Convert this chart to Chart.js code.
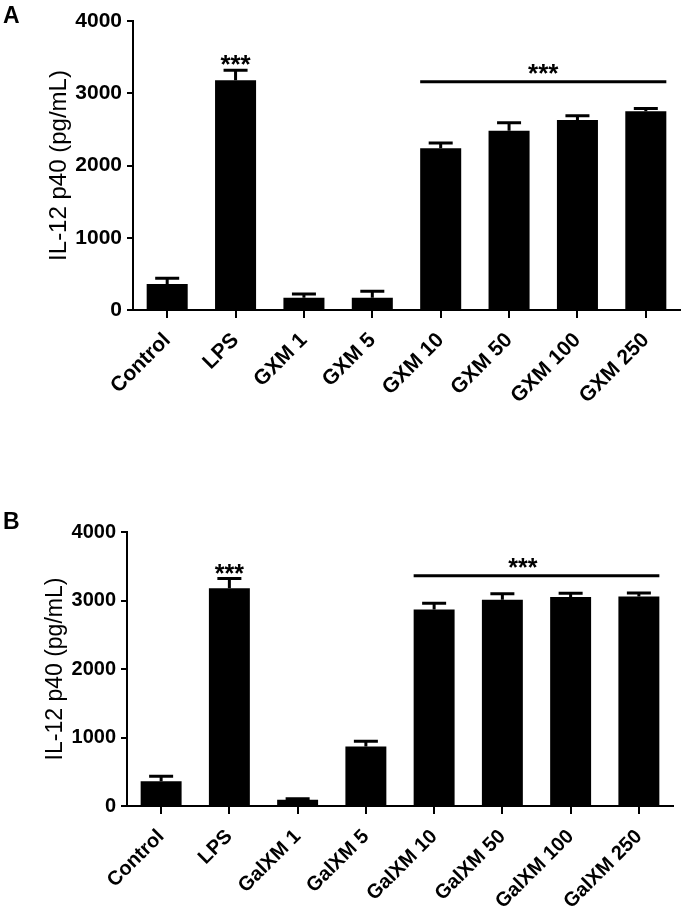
<!DOCTYPE html>
<html>
<head>
<meta charset="utf-8">
<script src="https://cdn.jsdelivr.net/npm/chart.js@4.4.0/dist/chart.umd.min.js"></script>
<style>
  body { margin: 0; background: #fff; width: 685px; height: 909px; position: relative; overflow: hidden;
         font-family: "Liberation Sans", Arial, sans-serif; }
  .panel { position: absolute; left: 0; width: 685px; }
  .tag { position: absolute; left: 3px; font-weight: bold; font-size: 23px; line-height: 1; color: #000; }
</style>
</head>
<body>
<div class="panel" style="top:0;height:460px"><canvas id="chartA"></canvas></div>
<div class="panel" style="top:460px;height:449px"><canvas id="chartB"></canvas></div>
<div class="tag" style="top:4px">A</div>
<div class="tag" style="top:510px">B</div>

<script>
// ---- data ----
const labelsA = ["Control", "LPS", "GXM 1", "GXM 5", "GXM 10", "GXM 50", "GXM 100", "GXM 250"];
const meanA   = [360, 3180, 170, 170, 2240, 2480, 2630, 2750];
const semA    = [80, 140, 50, 90, 70, 110, 60, 40];

const labelsB = ["Control", "LPS", "GalXM 1", "GalXM 5", "GalXM 10", "GalXM 50", "GalXM 100", "GalXM 250"];
const meanB   = [360, 3180, 90, 870, 2870, 3010, 3050, 3060];
const semB    = [75, 140, 15, 75, 90, 90, 55, 50];

const yTicks = [0, 1000, 2000, 3000, 4000];
const yTitle = "IL-12 p40 (pg/mL)";

// significance: single bar + bracket over a group of bars
const sigA = { single: 1, from: 4, to: 7, lineValue: 3160, starAt: 5.5 };
const sigB = { single: 1, from: 4, to: 7, lineValue: 3360, starAt: 5.3 };

const FONT = "'Liberation Sans', Arial, sans-serif";

/* ----------------------------------------------------------
   error bars + stars, drawn through the chart scales
---------------------------------------------------------- */
const annotate = {
  id: "annotate",
  afterDatasetsDraw(chart) {
    const o = chart.options.plugins.annotate;
    const ctx = chart.ctx;
    const xs = chart.scales.x, ys = chart.scales.y;
    const bars = chart.getDatasetMeta(0).data;

    ctx.save();
    ctx.strokeStyle = "#000";
    ctx.fillStyle = "#000";
    ctx.lineWidth = 3;
    ctx.lineCap = "butt";

    // error bars (upper half only, lower half hides in the black bar)
    o.mean.forEach((m, i) => {
      const x = bars[i].x;
      const yb = ys.getPixelForValue(m);
      const yt = ys.getPixelForValue(m + o.err[i]);
      ctx.beginPath();
      ctx.moveTo(x, yb);
      ctx.lineTo(x, yt);
      ctx.moveTo(x - 12, yt);
      ctx.lineTo(x + 12, yt);
      ctx.stroke();
    });

    const s = o.sig;
    ctx.font = "bold " + o.starSize + "px " + FONT;
    ctx.textAlign = "center";
    ctx.textBaseline = "alphabetic";

    // stars over single bar
    const xi = bars[s.single].x;
    const yi = ys.getPixelForValue(o.mean[s.single] + o.err[s.single]);
    ctx.fillText("***", xi, yi + 3);

    // bracket line over the group
    const half = bars[s.from].width / 2;
    const x1 = bars[s.from].x - half;
    const x2 = bars[s.to].x + half;
    const yl = ys.getPixelForValue(s.lineValue);
    ctx.beginPath();
    ctx.moveTo(x1, yl);
    ctx.lineTo(x2, yl);
    ctx.stroke();

    const k = Math.floor(s.starAt);
    const xs0 = xs.getPixelForValue(k), xs1 = xs.getPixelForValue(k + 1);
    ctx.fillText("***", xs0 + (xs1 - xs0) * (s.starAt - k), yl);
    ctx.restore();
  }
};

function makeChart(id, labels, mean, err, sig, g) {
  return new Chart(document.getElementById(id), {
    type: "bar",
    data: {
      labels: labels,
      datasets: [{
        data: mean,
        backgroundColor: "#000",
        borderWidth: 0,
        categoryPercentage: 1,
        barPercentage: 0.6
      }]
    },
    options: {
      responsive: true,
      maintainAspectRatio: false,
      animation: false,
      layout: { padding: { top: g.top, right: g.right, left: 0, bottom: 0 } },
      plugins: {
        legend: { display: false },
        tooltip: { enabled: false },
        annotate: { mean: mean, err: err, sig: sig, starSize: g.star }
      },
      scales: {
        x: {
          afterFit: s => { s.height = g.xh; },
          border: { display: true, color: "#000", width: 2 },
          grid: { offset: false, drawOnChartArea: false, drawTicks: true, tickLength: 8, lineWidth: 2, color: "#000" },
          ticks: {
            color: "#000",
            minRotation: 45,
            maxRotation: 45,
            autoSkip: false,
            padding: g.xpad,
            font: { family: FONT, size: g.font, weight: "bold" }
          }
        },
        y: {
          min: 0,
          max: 4000,
          afterFit: s => { s.width = g.yw; },
          afterBuildTicks: s => { s.ticks = yTicks.map(v => ({ value: v })); },
          border: { display: true, color: "#000", width: 2 },
          grid: { drawOnChartArea: false, drawTicks: true, tickLength: 6, lineWidth: 2, color: "#000" },
          ticks: {
            color: "#000",
            padding: 5,
            font: { family: FONT, size: g.font, weight: "bold" },
            callback: v => String(v)
          },
          title: {
            display: true,
            text: yTitle,
            color: "#000",
            padding: { top: g.tpad, bottom: 0 },
            font: { family: FONT, size: g.tfont, weight: "normal", lineHeight: 1.2 }
          }
        }
      }
    },
    plugins: [annotate]
  });
}

makeChart("chartA", labelsA, meanA, semA, sigA,
  { top: 21, right: 5, yw: 133, xh: 150, font: 21, xpad: 10, tfont: 24, tpad: 45, star: 26 });
makeChart("chartB", labelsB, meanB, semB, sigB,
  { top: 72, right: 12, yw: 127, xh: 103, font: 20, xpad: 11, tfont: 23, tpad: 42, star: 25 });
</script>
</body>
</html>
